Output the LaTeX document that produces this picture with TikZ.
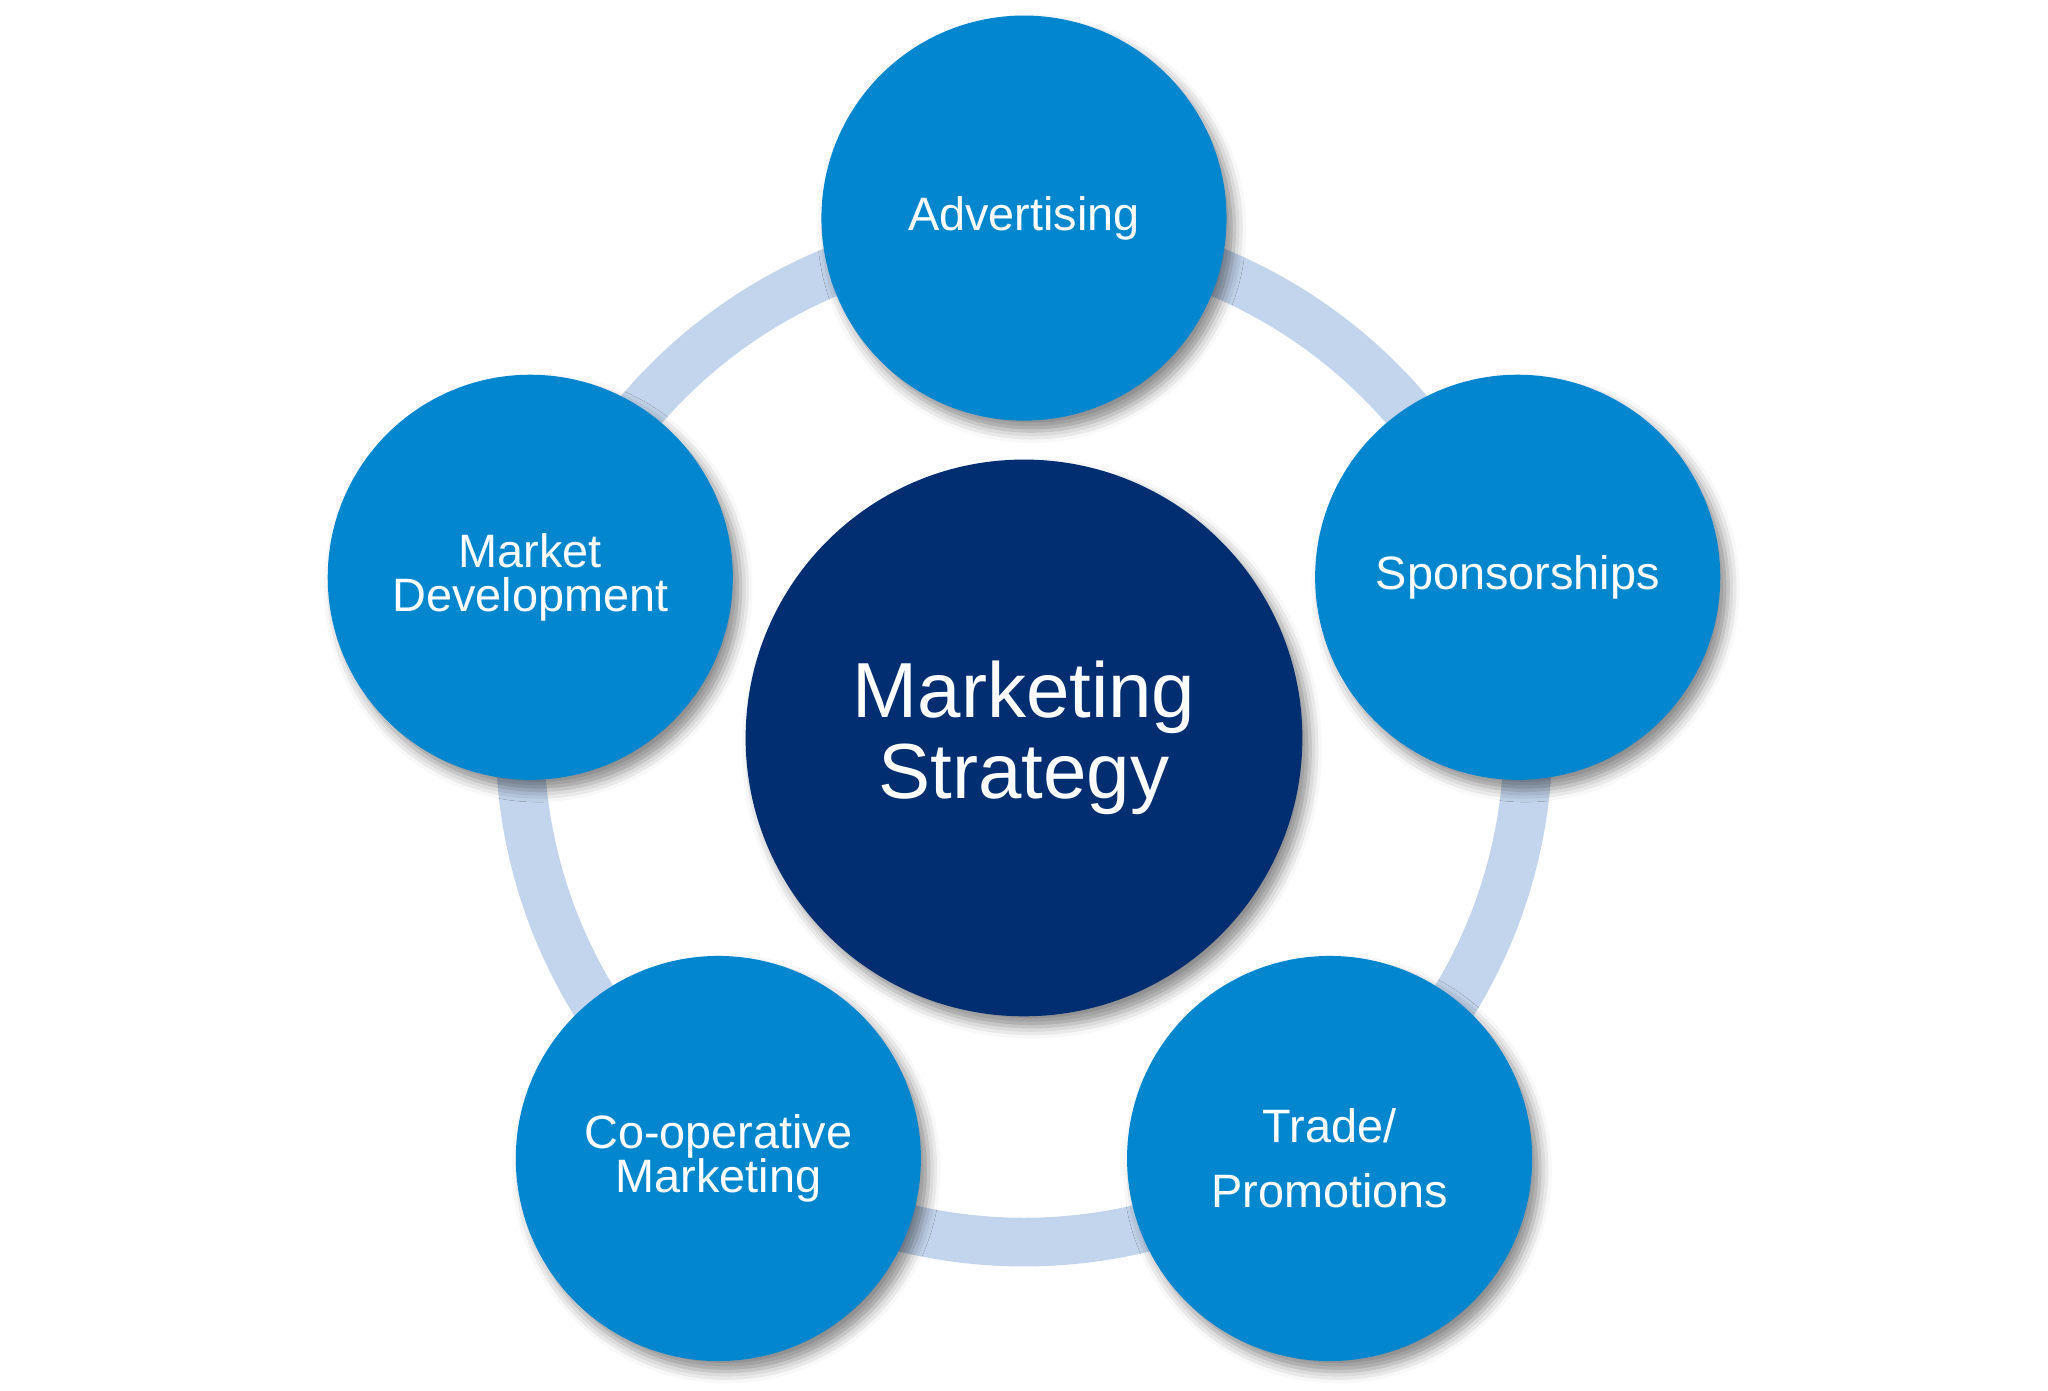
\documentclass[tikz,border=0pt]{standalone}
\usepackage{fontspec}
\setmainfont{Liberation Sans}
\usetikzlibrary{shadows.blur}

\definecolor{bubbleblue}{HTML}{0287CF}
\definecolor{corenavy}{HTML}{002E70}
\definecolor{ringblue}{HTML}{C3D5EC}

\tikzset{
  bubble/.style={circle,fill=bubbleblue,text=white,minimum size=3.1cm,inner sep=0pt,
    align=center,font=\fontsize{10.2}{9.6}\selectfont,
    blur shadow={shadow xshift=0.06cm,shadow yshift=-0.08cm,shadow blur radius=0.09cm,shadow opacity=45}},
  core/.style={bubble,fill=corenavy,minimum size=4.26cm,font=\fontsize{17}{17.6}\selectfont},
  ring/.style={draw=ringblue,line width=10.6pt}
}

\begin{document}
\begin{tikzpicture}[x=0.01cm,y=-0.01cm]
  \useasboundingbox (0,0) rectangle (1568,1065);

  \coordinate (mid) at (784,565);

  % Ring
  \draw[ring] (mid) circle (386);

  % Centre
  \node[core] (strategy) at (mid) {Marketing\\Strategy};

  % Outer circles
  \node[bubble] (advert) at (784,167) {Advertising};
  \node[bubble] (sponsor) at (1162,442) {Sponsorships};
  \node[bubble] (develop) at (406,442) {Market\\Development};
  \node[bubble] (coop) at (550,887) {Co-operative\\Marketing};
  \node[bubble] (trade) at (1018,887) {Trade/\\[4.6pt]Promotions};
\end{tikzpicture}
\end{document}
